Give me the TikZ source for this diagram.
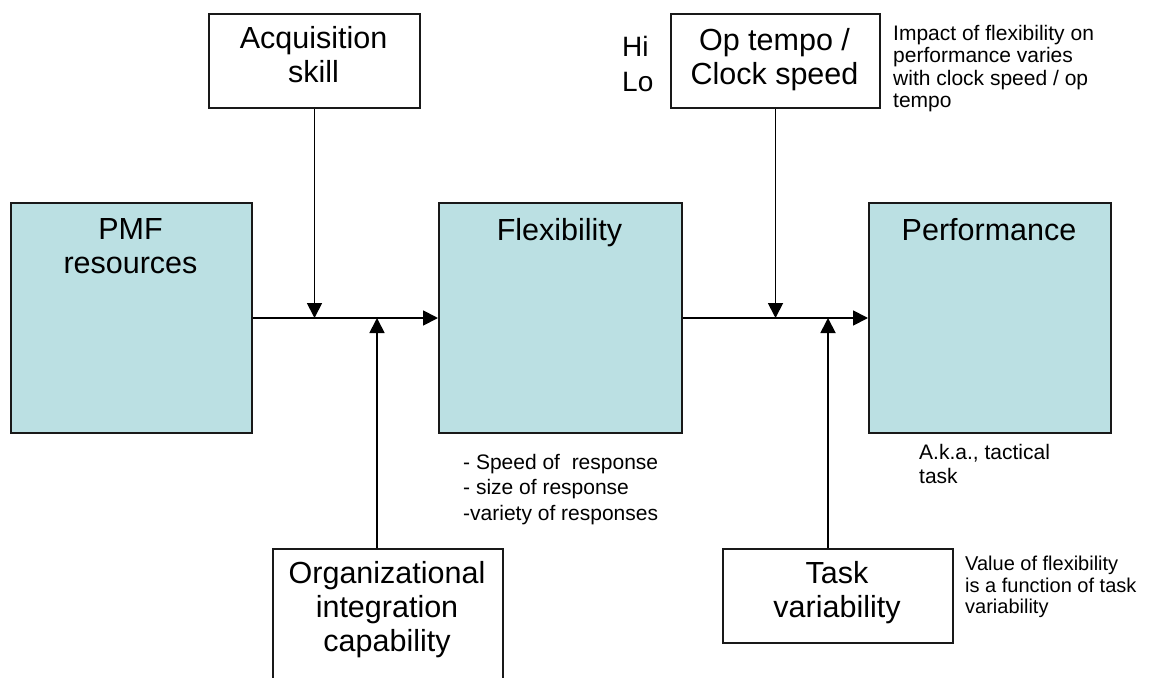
\documentclass[tikz,border=0pt]{standalone}
\usepackage{fontspec}
\setmainfont{Liberation Sans}
\usetikzlibrary{arrows.meta}
\definecolor{boxfill}{HTML}{BBE0E3}
\begin{document}
\begin{tikzpicture}[x=1pt,y=-1pt,
  boxshape/.style={draw=black!90, line width=2pt, rectangle, inner sep=0pt, anchor=north west},
  filled/.style={boxshape, fill=boxfill},
  bigtext/.style={font=\fontsize{30.5}{34}\selectfont, align=center, inner sep=0pt, anchor=north},
  smalltext/.style={font=\fontsize{21}{#1}\selectfont, align=left, inner sep=0pt, anchor=north west},
  conn/.style={line width=1.8pt, -{Triangle[length=15pt,width=15pt]}},
]
\clip (0,0) rectangle (1153,677);
% main boxes
\node[filled, minimum width=241pt, minimum height=230pt] (pmf) at (10,202) {};
\node[filled, minimum width=243pt, minimum height=230pt] (flex) at (438,202) {};
\node[filled, minimum width=242pt, minimum height=230pt] (perf) at (868,202) {};
% moderator boxes
\node[boxshape, minimum width=211pt, minimum height=94pt] (acq) at (208,13) {};
\node[boxshape, minimum width=209pt, minimum height=94pt] (op) at (670,13) {};
\node[boxshape, minimum width=230pt, minimum height=150pt] (org) at (272,548) {};
\node[boxshape, minimum width=230pt, minimum height=94pt] (task) at (722,548) {};
% box texts
\node[bigtext] (pmft) at (130.5,218) {PMF\\resources};
\node[bigtext] (flext) at (559.5,218) {Flexibility};
\node[bigtext] (perft) at (989,218) {Performance};
\node[bigtext] (acqt) at (313.5,26) {Acquisition\\skill};
\node[bigtext] (opt) at (774.5,28) {Op tempo /\\Clock speed};
\node[bigtext] (orgt) at (387,561) {Organizational\\integration\\capability};
\node[bigtext] (taskt) at (837,561) {Task\\variability};
\node[font=\fontsize{28}{35}\selectfont, align=left, inner sep=0pt, anchor=north west] (hilo) at (622,36) {Hi\\Lo};
% annotations
\node[smalltext=22.5] (impact) at (893,25) {Impact of flexibility on\\performance varies\\with clock speed / op\\tempo};
\node[smalltext=25.5] (bullets) at (463,454) {- Speed of\ \ response\\- size of response\\-variety of responses};
\node[smalltext=24] (aka) at (919,444) {A.k.a., tactical\\task};
\node[font=\fontsize{20}{21.5}\selectfont, align=left, inner sep=0pt, anchor=north west] (value) at (965,556) {Value of flexibility\\is a function of task\\variability};
% connectors
\draw[conn] (pmf) -- (flex);
\draw[conn] (flex) -- (perf);
\draw[conn] (acq.south) -- (acq.south |- pmf.east);
\draw[conn] ([xshift=-11pt]org.north) -- ([xshift=-11pt]org.north |- pmf.east);
\draw[conn] (op.south) -- (op.south |- perf.west);
\draw[conn] ([xshift=-10pt]task.north) -- ([xshift=-10pt]task.north |- perf.west);
\end{tikzpicture}
\end{document}
